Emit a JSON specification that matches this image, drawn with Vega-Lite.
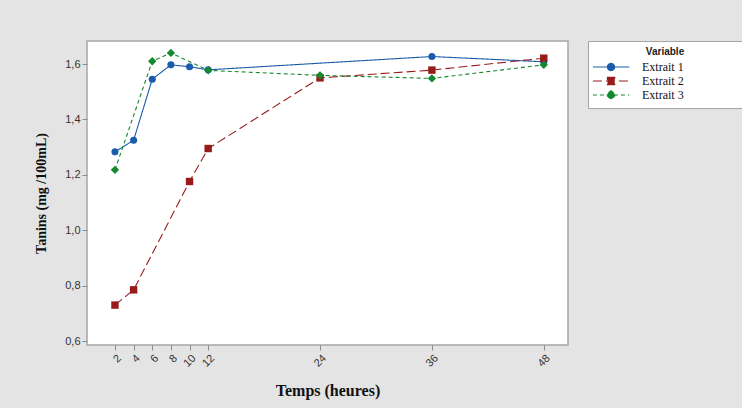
{
  "$schema": "https://vega.github.io/schema/vega-lite/v6.json",
  "autosize": {"type": "none"},
  "width": 481,
  "height": 304,
  "padding": {"left": 87, "top": 41, "right": 174, "bottom": 63},
  "background": "#e4e4e4",
  "config": {
    "view": {"fill": "white", "stroke": "#a6a6a6", "strokeWidth": 1.5},
    "axis": {
      "domain": false,
      "grid": false,
      "tickColor": "#8c8c8c",
      "tickSize": 5,
      "labelFont": "Liberation Sans",
      "labelFontSize": 11,
      "labelColor": "#333333",
      "titleFont": "Liberation Serif",
      "titleFontWeight": "bold",
      "titleColor": "#111111"
    }
  },
  "data": {
    "values": [
      {"t": 2, "v": 1.283, "s": "Extrait 1"},
      {"t": 4, "v": 1.325, "s": "Extrait 1"},
      {"t": 6, "v": 1.545, "s": "Extrait 1"},
      {"t": 8, "v": 1.597, "s": "Extrait 1"},
      {"t": 10, "v": 1.59, "s": "Extrait 1"},
      {"t": 12, "v": 1.579, "s": "Extrait 1"},
      {"t": 36, "v": 1.627, "s": "Extrait 1"},
      {"t": 48, "v": 1.608, "s": "Extrait 1"},
      {"t": 2, "v": 0.73, "s": "Extrait 2"},
      {"t": 4, "v": 0.785, "s": "Extrait 2"},
      {"t": 10, "v": 1.176, "s": "Extrait 2"},
      {"t": 12, "v": 1.295, "s": "Extrait 2"},
      {"t": 24, "v": 1.55, "s": "Extrait 2"},
      {"t": 36, "v": 1.578, "s": "Extrait 2"},
      {"t": 48, "v": 1.621, "s": "Extrait 2"},
      {"t": 2, "v": 1.218, "s": "Extrait 3"},
      {"t": 6, "v": 1.61, "s": "Extrait 3"},
      {"t": 8, "v": 1.64, "s": "Extrait 3"},
      {"t": 12, "v": 1.577, "s": "Extrait 3"},
      {"t": 24, "v": 1.559, "s": "Extrait 3"},
      {"t": 36, "v": 1.548, "s": "Extrait 3"},
      {"t": 48, "v": 1.597, "s": "Extrait 3"}
    ]
  },
  "encoding": {
    "x": {
      "field": "t", "type": "quantitative",
      "scale": {"domain": [-1, 50.6], "nice": false, "zero": false},
      "axis": {"values": [2, 4, 6, 8, 10, 12, 24, 36, 48], "labelAngle": -45, "title": "Temps (heures)", "titleFontSize": 16, "titlePadding": 14}
    },
    "y": {
      "field": "v", "type": "quantitative",
      "scale": {"domain": [0.586, 1.683], "nice": false, "zero": false},
      "axis": {"values": [0.6, 0.8, 1.0, 1.2, 1.4, 1.6], "labelExpr": "replace(format(datum.value, '.1f'), '.', ',')", "title": "Tanins (mg /100mL)", "titleFontSize": 14, "titlePadding": 16}
    },
    "color": {
      "field": "s", "type": "nominal",
      "scale": {"domain": ["Extrait 1", "Extrait 2", "Extrait 3"], "range": ["#1a5cab", "#981b1b", "#15892e"]},
      "legend": {
        "title": "Variable",
        "orient": "none",
        "legendX": 501,
        "legendY": 0,
        "padding": 6,
        "fillColor": "white",
        "strokeColor": "#a6a6a6",
        "titleFont": "Liberation Sans",
        "titleFontSize": 10,
        "titleFontWeight": "bold",
        "titleColor": "#222222",
        "titleAnchor": "middle",
        "titlePadding": 2,
        "labelFont": "Liberation Serif",
        "labelFontSize": 12,
        "labelColor": "#111111",
        "labelOffset": 32,
        "rowPadding": 0,
        "symbolSize": 196,
        "encode": {
          "symbols": {
            "update": {
              "shape": {"signal": "datum.value == 'Extrait 1' ? 'M-1.3,0H3.9M0.78,0A0.51,0.51 0 1,0 1.8,0A0.51,0.51 0 1,0 0.78,0ZM18.7,0' : datum.value == 'Extrait 2' ? 'M-1.3,0H3.9M0.78,-0.51H1.8V0.51H0.78ZM18.7,0' : 'M-1.3,0H3.9M1.29,-0.64L1.93,0L1.29,0.64L0.65,0ZM18.7,0'"},
              "fill": {"signal": "datum.value == 'Extrait 1' ? '#1a5cab' : datum.value == 'Extrait 2' ? '#981b1b' : '#15892e'"},
              "stroke": {"signal": "datum.value == 'Extrait 1' ? '#1a5cab' : datum.value == 'Extrait 2' ? '#981b1b' : '#15892e'"},
              "strokeDash": {"signal": "datum.value == 'Extrait 1' ? [1, 0] : datum.value == 'Extrait 2' ? [9, 3] : [4, 3]"},
              "strokeWidth": {"value": 1.2},
              "opacity": {"value": 1}
            }
          }
        }
      }
    }
  },
  "layer": [
    {
      "mark": {"type": "line", "strokeWidth": 1.1},
      "encoding": {
        "strokeDash": {
          "field": "s", "type": "nominal",
          "scale": {"domain": ["Extrait 1", "Extrait 2", "Extrait 3"], "range": [[1, 0], [9, 4], [4, 3]]},
          "legend": null
        }
      }
    },
    {
      "transform": [{"filter": "datum.s == 'Extrait 1'"}],
      "mark": {"type": "point", "shape": "circle", "filled": true, "opacity": 1, "size": 50}
    },
    {
      "transform": [{"filter": "datum.s == 'Extrait 2'"}],
      "mark": {"type": "point", "shape": "square", "filled": true, "opacity": 1, "size": 55}
    },
    {
      "transform": [{"filter": "datum.s == 'Extrait 3'"}],
      "mark": {"type": "point", "shape": "diamond", "filled": true, "opacity": 1, "size": 70}
    }
  ]
}
